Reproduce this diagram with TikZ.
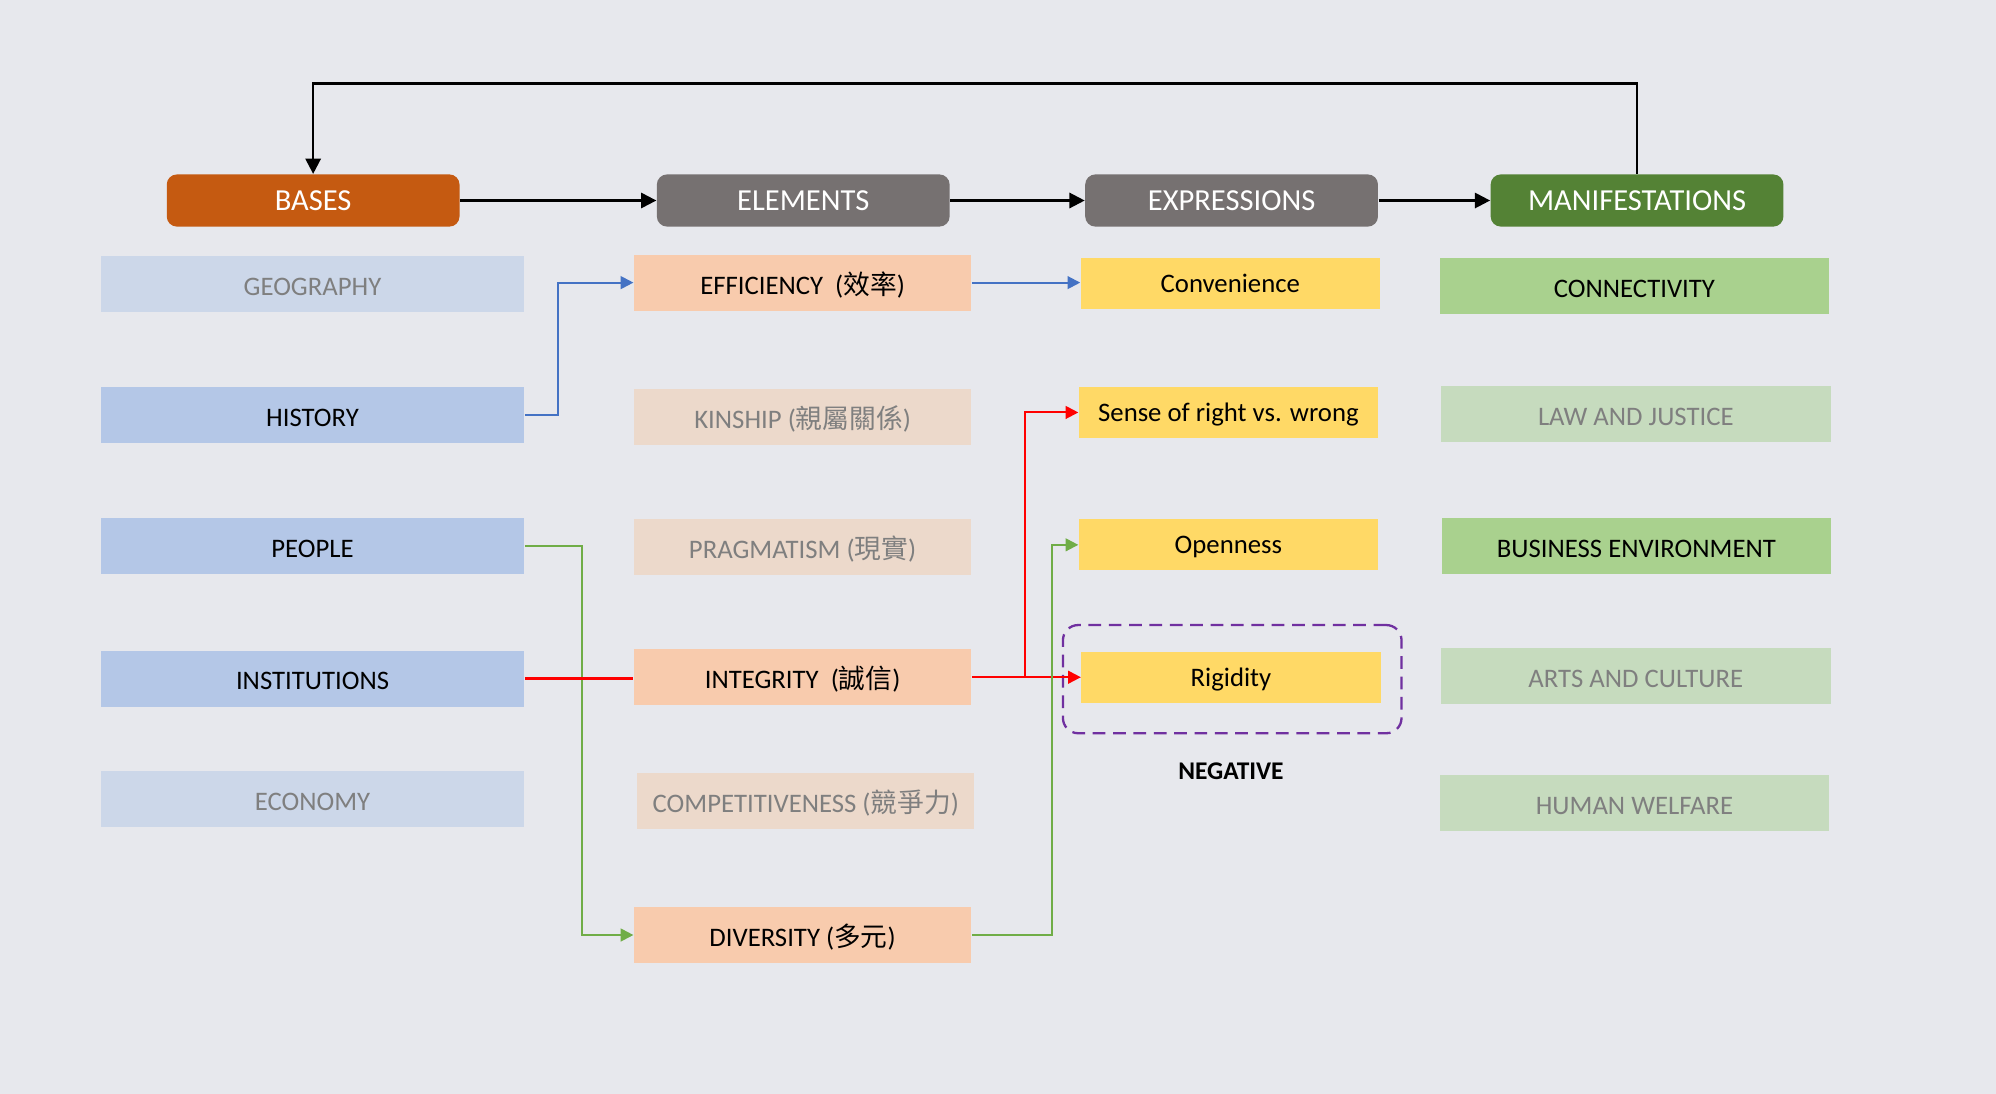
\documentclass[tikz,border=0pt]{standalone}
\usepackage{fontspec}
\setmainfont{Carlito}
\newfontfamily\cjk{Noto Sans CJK TC}
\usepackage{xcolor}
\usetikzlibrary{arrows.meta,positioning}
\definecolor{bgcol}{HTML}{E7E8ED}
\definecolor{basecol}{HTML}{C55A11}
\definecolor{greycol}{HTML}{767171}
\definecolor{maincol}{HTML}{548235}
\definecolor{bluebox}{HTML}{B4C7E7}
\definecolor{bluefade}{HTML}{CCD7E9}
\definecolor{peachbox}{HTML}{F8CBAD}
\definecolor{peachfade}{HTML}{ECD9CB}
\definecolor{yellowbox}{HTML}{FFD966}
\definecolor{greenbox}{HTML}{A9D18E}
\definecolor{greenfade}{HTML}{C6DBBE}
\definecolor{fadetext}{HTML}{7F7F7F}
\definecolor{blueline}{HTML}{4472C4}
\definecolor{greenline}{HTML}{70AD47}
\definecolor{negcol}{HTML}{7030A0}
\tikzset{
head/.style={
  rectangle,
  rounded corners=4pt,
  text=white,
  minimum width=115pt,
  minimum height=20.5pt,
  text height=9pt,
  text depth=1pt,
  font=\fontsize{12}{14}\selectfont},
item/.style={
  rectangle,
  minimum height=22pt,
  text height=10pt,
  text depth=1pt,
  font=\fontsize{10.5}{12}\selectfont},
base/.style={item, fill=bluebox, minimum width=166.5pt},
elem/.style={item, fill=peachbox, minimum width=132.5pt},
expr/.style={item, fill=yellowbox, minimum width=117.5pt, minimum height=20pt,
  text height=8pt},
mani/.style={item, fill=greenbox, minimum width=153pt},
faded/.style={text=fadetext},
line/.style={draw, line width=0.8pt, -{Triangle[length=5pt,width=5pt]}},
mainline/.style={draw, line width=0.9pt, -{Triangle[length=6pt,width=6pt]}}
}
\begin{document}
\begin{tikzpicture}[x=0.5pt,y=-0.5pt]
    \fill [bgcol] (0,0) rectangle (1568,859);
    % column heads
    \node [head, fill=basecol] (bases) at (246,157.5) {BASES};
    \node [head, fill=greycol] (elems) at (631,157.5) {ELEMENTS};
    \node [head, fill=greycol] (expr) at (967.5,157.5) {EXPRESSIONS};
    \node [head, fill=maincol] (manif) at (1286,157.5) {MANIFESTATIONS};
    % bases
    \node [base, fill=bluefade, faded] (geo) at (245.5,223) {GEOGRAPHY};
    \node [base] (hist) at (245.5,326) {HISTORY};
    \node [base] (people) at (245.5,429) {PEOPLE};
    \node [base] (inst) at (245.5,533) {INSTITUTIONS};
    \node [base, fill=bluefade, faded] (econ) at (245.5,627.5) {ECONOMY};
    % elements
    \node [elem] (eff) at (630.5,222) {EFFICIENCY~ ({\cjk 效率})};
    \node [elem, fill=peachfade, faded] (kin) at (630.5,327.5) {KINSHIP ({\cjk 親屬關係})};
    \node [elem, fill=peachfade, faded] (prag) at (630.5,430) {PRAGMATISM ({\cjk 現實})};
    \node [elem] (integ) at (630.5,532) {INTEGRITY~ ({\cjk 誠信})};
    \node [elem, fill=peachfade, faded] (comp) at (633,629) {COMPETITIVENESS ({\cjk 競爭力})};
    \node [elem] (div) at (630.5,734.5) {DIVERSITY ({\cjk 多元})};
    % expressions
    \node [expr] (conv) at (966.5,223) {Convenience};
    \node [expr] (sense) at (965,324) {Sense of right vs. wrong};
    \node [expr] (open) at (965,428) {Openness};
    \node [expr] (rigid) at (967,532) {Rigidity};
    \node [draw=negcol, line width=0.9pt, dash pattern=on 5pt off 3pt, rounded corners=6pt,
      minimum width=133pt, minimum height=42.5pt] (neg) at (968,533.5) {};
    \node [font=\fontsize{10}{12}\selectfont\bfseries] (neglbl) at (967,606) {NEGATIVE};
    % manifestations
    \node [mani] (conn) at (1284,225) {CONNECTIVITY};
    \node [mani, fill=greenfade, faded] (law) at (1285,325) {LAW AND JUSTICE};
    \node [mani] (bus) at (1285.5,429) {BUSINESS ENVIRONMENT};
    \node [mani, fill=greenfade, faded] (arts) at (1285,531) {ARTS AND CULTURE};
    \node [mani, fill=greenfade, faded] (welf) at (1284,631) {HUMAN WELFARE};
    % flow of heads
    \path [mainline] (bases) -- (elems);
    \path [mainline] (elems) -- (expr);
    \path [mainline] (expr) -- (manif);
    \path [mainline] (manif.north) -- ++(0,-71) -| (bases.north);
    % links
    \path [line, blueline] (hist.east) -- ++(26,0) |- (eff.west);
    \path [line, blueline] (eff.east) -- (eff.east -| conv.west);
    \path [line, greenline] (people.east) -- ++(45,0) |- (div.west);
    \path [draw, line width=0.8pt, red] (inst.east) -- (inst.east -| integ.west);
    \path [line, red] (integ.east) -- (rigid.west);
    \coordinate (split) at (805,532);
    \path [line, red] (split) |- (sense.west);
    \path [line, greenline] (div.east) -- ++(63,0) |- (open.west);
\end{tikzpicture}
\end{document}
